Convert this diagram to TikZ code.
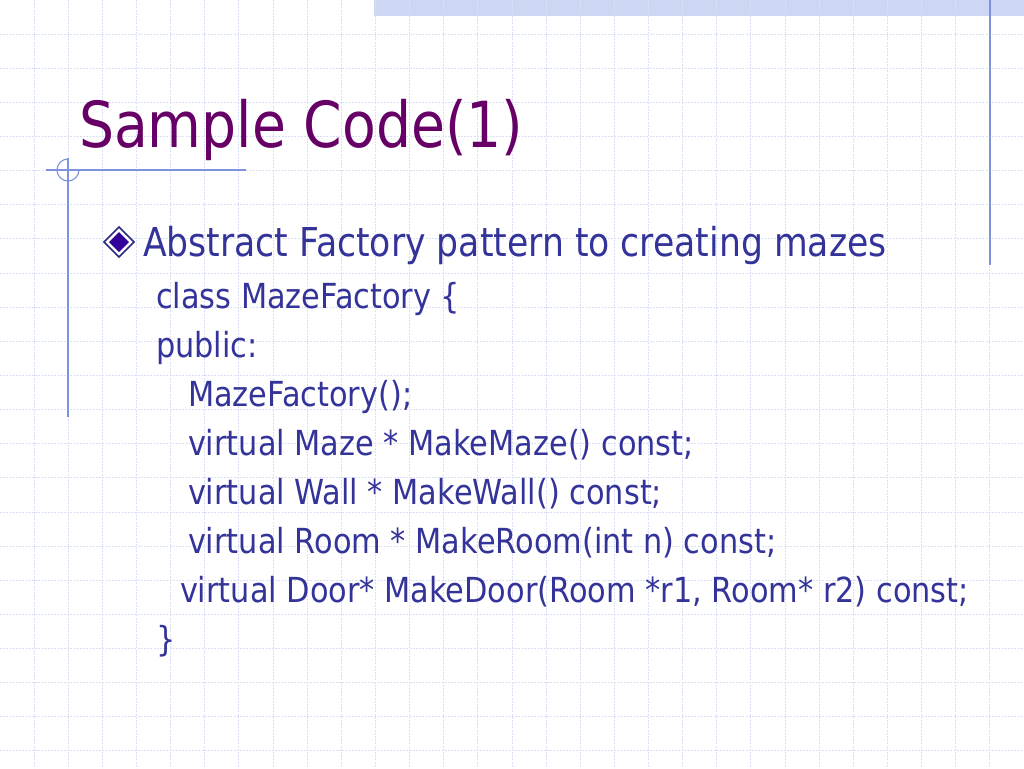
\documentclass[tikz,border=0pt]{standalone}
\usepackage{fontspec}
\setmainfont{DejaVu Sans}[FakeStretch=0.87]
\newfontfamily\codefont{DejaVu Sans}[FakeStretch=0.88]
\definecolor{titlecol}{HTML}{660066}
\definecolor{bodycol}{HTML}{333399}
\definecolor{gridcol}{HTML}{DCE0F6}
\definecolor{linecol}{HTML}{7F93DC}
\definecolor{bandcol}{HTML}{CDD7F3}
\definecolor{bulletcol}{HTML}{330099}
\definecolor{bulletedge}{HTML}{2A2A80}
\begin{document}
\begin{tikzpicture}[x=1pt,y=-1pt,
  txt/.style={anchor=base west, inner sep=0pt, outer sep=0pt, text=bodycol},
  codetxt/.style={txt, font=\codefont\fontsize{34.5}{40}\selectfont},
  gridline/.style={draw=gridcol, line width=0.9pt, dash pattern=on 2pt off 1.2pt},
  deco/.style={draw=linecol, line width=1.1pt}]
\useasboundingbox (0,0) rectangle (1024,768);
\fill[white] (0,0) rectangle (1024,768);
% top band
\fill[bandcol] (374,0) rectangle (1024,16);
% grid
\foreach \i in {1,...,29} {
  \draw[gridline] (\i*34.1333,0) -- (\i*34.1333,768);
}
\foreach \j in {1,...,22} {
  \draw[gridline] (0,\j*34.1333) -- (1024,\j*34.1333);
}
% decorations
\draw[deco] (990,0) -- (990,265);
\draw[deco] (46,170) -- (246,170);
\draw[deco] (68,158) -- (68,417);
\draw[deco] (68,159) arc[start angle=90, end angle=360, radius=11pt];
% title
\node[txt, text=titlecol, font=\fontsize{63.5}{70}\selectfont] (title) at (79,147) {Sample Code(1)};
% bullet
\draw[draw=bulletedge, line width=1.6pt, fill=white] (104,242) -- (119,227) -- (134,242) -- (119,257) -- cycle;
\fill[bulletcol] (109,242) -- (119,232) -- (129,242) -- (119,252) -- cycle;
\node[txt, font=\fontsize{39.8}{46}\selectfont] (bullet) at (143,256) {Abstract Factory pattern to creating mazes};
% code
\node[codetxt] (c1) at (156,308) {class MazeFactory \{};
\node[codetxt] (c2) at (156,357) {public:};
\node[codetxt] (c3) at (188,406) {MazeFactory();};
\node[codetxt] (c4) at (188,455) {virtual Maze * MakeMaze() const;};
\node[codetxt] (c5) at (188,504) {virtual Wall * MakeWall() const;};
\node[codetxt] (c6) at (188,553) {virtual Room * MakeRoom(int n) const;};
\node[codetxt] (c7) at (180,602) {virtual Door* MakeDoor(Room *r1, Room* r2) const;};
\node[codetxt] (c8) at (156,651) {\}};
\end{tikzpicture}
\end{document}
